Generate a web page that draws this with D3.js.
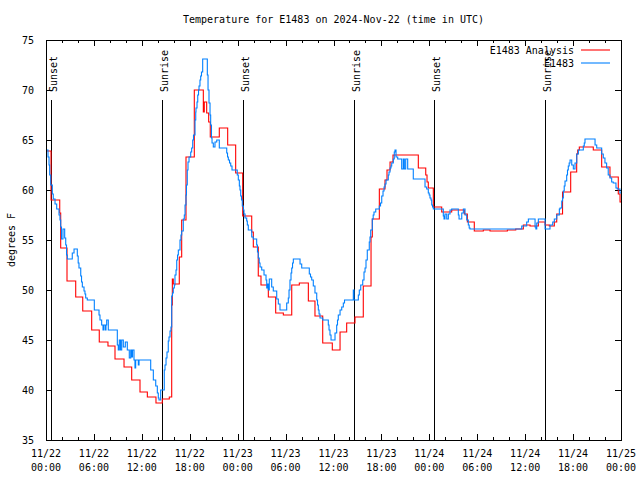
<!DOCTYPE html>
<html>
<head>
<meta charset="utf-8">
<script src="https://cdn.jsdelivr.net/npm/d3@7"></script>
<style>
  body { margin: 0; background: #fff; }
  svg { display: block; }
  text { font-family: "DejaVu Sans Mono", "Liberation Mono", monospace; font-size: 10px; fill: #000; }
</style>
</head>
<body>
<svg id="chart" width="640" height="480"></svg>
<script>
// ---- Data (hours since 2024-11-22 00:00 UTC) ----
const analysisHours = [0.00,0.63,1.72,1.84,2.63,3.72,4.60,5.72,6.67,7.76,8.64,9.77,10.73,11.77,12.69,13.77,14.56,15.44,15.74,15.82,15.94,16.69,16.99,17.53,18.57,19.70,19.82,20.12,20.37,20.57,21.70,22.75,23.75,24.63,25.76,25.96,26.58,26.92,27.84,28.76,29.72,30.77,31.72,32.85,33.68,34.65,35.85,36.82,37.65,38.69,39.73,40.70,40.86,41.74,42.45,42.70,43.08,43.45,46.62,47.55,47.71,47.87,48.50,49.55,50.80,52.38,52.76,53.63,54.76,55.60,57.77,58.82,59.77,60.61,61.65,62.49,63.02,63.65,63.95,64.68,65.70,66.45,66.58,66.78,68.53,69.58,70.62,71.66,71.88];
const analysisTemps = [63.9,59.0,57.7,54.2,50.9,49.3,47.9,46.0,44.8,44.4,43.1,42.3,41.0,39.8,39.3,38.7,39.1,39.3,48.5,51.1,50.6,53.3,57.0,63.3,70.0,67.8,68.8,67.7,66.8,65.3,66.2,64.5,61.7,57.4,55.8,54.3,51.4,50.5,49.3,47.7,47.5,50.5,50.7,48.9,47.4,44.7,44.0,45.8,46.7,47.3,50.4,55.3,57.1,60.1,61.0,62.0,62.8,63.5,62.2,61.5,60.8,60.2,58.3,57.8,58.0,57.6,56.8,55.9,56.0,55.9,56.0,56.1,56.5,56.4,56.8,56.5,56.4,56.8,57.6,59.8,61.8,63.6,64.0,64.3,64.0,62.3,61.3,59.6,58.8];

const stationHours = [0.00,0.25,0.38,0.46,0.59,0.79,0.91,1.13,1.34,1.63,1.75,1.84,1.94,2.13,2.34,2.47,2.57,2.67,3.29,3.51,3.92,4.03,4.13,4.35,4.45,4.55,4.76,4.88,4.97,5.17,6.05,6.64,6.76,6.97,7.14,7.26,7.45,7.51,7.60,7.80,8.93,9.05,9.18,9.33,9.48,9.68,9.93,10.18,10.43,10.61,10.71,10.83,11.02,11.14,11.23,11.56,11.65,13.11,13.44,13.74,13.94,14.06,14.15,14.36,14.81,14.90,15.03,15.15,15.31,15.40,15.53,15.65,15.74,15.84,15.94,16.07,16.15,16.28,16.37,16.47,16.57,16.78,16.90,16.99,17.19,17.32,17.41,17.53,17.59,17.69,17.78,17.91,18.12,18.24,18.37,18.47,18.66,18.75,18.78,18.91,19.00,19.10,19.16,19.28,19.37,19.47,19.62,20.20,20.29,20.41,20.54,20.62,20.72,20.79,20.95,21.16,21.38,21.70,22.63,22.73,22.83,22.98,23.13,23.29,23.95,24.08,24.21,24.29,24.38,24.48,24.58,24.71,24.79,24.92,25.13,25.21,25.33,25.76,25.96,26.38,26.48,26.58,26.70,26.80,27.01,27.30,27.55,27.64,27.71,27.84,27.96,28.26,28.46,28.89,29.09,29.30,30.14,30.34,30.43,30.55,30.68,30.77,30.87,30.97,31.81,32.02,32.97,33.12,33.27,33.47,33.68,33.90,34.00,34.10,34.19,34.31,34.65,35.35,35.44,35.56,35.69,36.19,36.40,36.50,36.60,36.82,37.03,37.23,37.38,38.48,38.57,39.11,39.23,39.41,39.66,39.82,39.95,40.07,40.23,40.48,40.57,40.66,40.86,40.97,41.07,41.29,41.74,41.89,42.04,42.20,42.33,42.45,42.58,42.86,42.95,43.08,43.20,43.29,43.49,43.61,43.70,43.83,44.04,44.54,44.74,44.87,45.04,45.29,45.99,47.46,47.67,47.87,47.98,48.08,48.21,48.30,48.40,48.50,49.75,49.84,49.96,50.18,50.38,50.59,50.80,51.63,51.72,52.06,52.26,52.47,52.68,52.88,52.99,53.09,59.57,60.19,60.40,61.24,61.34,61.45,61.65,62.49,63.11,63.45,63.65,63.95,64.28,64.37,64.58,64.68,64.78,64.89,64.99,65.20,65.30,65.40,65.51,65.62,65.83,66.03,66.24,66.46,66.66,67.28,67.40,67.49,68.75,68.96,69.58,69.78,69.99,70.20,70.40,70.62,70.83,71.03,71.37,71.53,71.87];
const stationTemps = [64.0,63.3,62.5,61.5,60.5,59.6,59.1,58.6,58.1,57.5,57.0,56.3,55.1,56.1,55.2,54.5,53.5,53.1,53.7,54.1,53.4,52.7,52.2,51.4,50.8,50.3,49.9,49.6,49.2,49.0,48.0,47.5,47.0,46.5,46.0,46.5,46.0,46.5,47.0,46.0,44.5,44.0,45.0,44.0,45.0,44.3,44.8,44.0,43.2,44.0,43.3,44.0,43.0,42.2,43.0,42.5,43.0,42.0,41.0,40.4,39.7,39.2,39.0,40.0,42.0,42.5,43.2,43.8,44.9,45.3,45.9,46.3,49.4,49.7,50.2,50.5,51.5,52.0,53.0,53.5,54.0,55.0,55.5,55.9,57.1,57.5,58.5,59.5,60.5,62.0,62.8,63.3,63.8,64.2,65.0,65.5,67.0,67.8,68.2,68.8,69.5,70.0,70.4,71.0,71.4,71.8,73.1,71.5,70.0,68.7,67.5,66.5,65.2,64.7,64.3,64.8,65.0,64.2,63.7,63.3,63.0,62.7,62.4,62.0,61.5,61.0,60.4,60.0,59.4,59.0,58.4,58.0,57.6,57.2,56.9,56.5,56.0,55.3,55.1,54.5,53.8,53.2,52.7,52.3,52.0,51.5,51.0,50.2,50.6,50.0,51.1,50.3,49.9,49.1,48.6,48.0,48.7,49.2,50.0,51.0,51.7,52.2,52.7,53.1,52.6,52.2,51.6,51.3,51.0,50.4,49.7,49.0,48.5,48.0,47.6,47.2,47.0,46.5,46.0,45.5,45.0,45.7,46.5,47.0,47.5,48.0,48.3,48.7,49.0,50.0,49.0,49.5,50.0,50.5,51.0,51.8,52.2,53.0,54.0,54.8,55.3,56.0,57.1,57.5,57.8,58.1,58.4,58.7,59.4,59.9,60.3,60.6,61.0,61.5,61.8,62.2,62.4,62.7,63.1,63.8,64.0,63.3,63.1,62.1,63.1,62.1,63.1,62.1,61.1,60.3,60.1,59.7,59.5,59.2,59.0,58.5,58.3,58.1,57.4,57.1,57.6,57.1,57.6,58.0,58.1,57.5,57.1,57.7,58.1,57.5,57.0,56.5,56.2,56.1,56.4,56.8,57.1,56.3,56.1,56.7,57.1,56.1,56.5,56.8,57.1,57.5,58.1,58.2,58.9,59.2,59.9,60.4,60.9,61.5,62.0,62.4,62.7,63.0,62.5,62.1,62.7,63.6,64.0,64.4,64.7,65.1,64.5,64.2,63.6,63.2,62.7,62.2,61.5,61.2,60.8,60.7,60.2,60.1,59.7];

const sunEventHours = [0.63, 14.53, 24.67, 38.57, 48.60, 62.49];
const sunEventLabels = ["Sunset", "Sunrise", "Sunset", "Sunrise", "Sunset", "Sunrise"];

const xTickHours = [0, 6, 12, 18, 24, 30, 36, 42, 48, 54, 60, 66, 72];
const xTickDates = ["11/22","11/22","11/22","11/22","11/23","11/23","11/23","11/23","11/24","11/24","11/24","11/24","11/25"];
const xTickTimes = ["00:00","06:00","12:00","18:00","00:00","06:00","12:00","18:00","00:00","06:00","12:00","18:00","00:00"];
const xMinorHours = d3.range(0, 73, 2);
const yTicks = [35, 40, 45, 50, 55, 60, 65, 70, 75];

const seriesNames = ["E1483 Analysis", "E1483"];
const seriesColors = ["#ff0000", "#0080ff"];
const titleText = "Temperature for E1483 on 2024-Nov-22 (time in UTC)";
const yLabelText = "degrees F";

// ---- Layout ----
const W = 640, H = 480;
const m = { left: 46, right: 19, top: 40, bottom: 40 };
const pw = W - m.left - m.right, ph = H - m.top - m.bottom;

const svg = d3.select("#chart");
const x = d3.scaleLinear().domain([0, 72]).range([m.left, m.left + pw]);
const y = d3.scaleLinear().domain([35, 75]).range([m.top + ph, m.top]);

svg.append("rect").attr("width", W).attr("height", H).attr("fill", "#fff");

// axes (ticks inward, mirrored)
const majorLen = 6, minorLen = 3;
const gBottomMin = svg.append("g").attr("transform", `translate(0,${m.top + ph})`)
  .call(d3.axisBottom(x).tickValues(xMinorHours).tickSize(-minorLen).tickFormat(""));
const gBottomMaj = svg.append("g").attr("transform", `translate(0,${m.top + ph})`)
  .call(d3.axisBottom(x).tickValues(xTickHours).tickSize(-majorLen).tickFormat(""));
const gTopMin = svg.append("g").attr("transform", `translate(0,${m.top})`)
  .call(d3.axisTop(x).tickValues(xMinorHours).tickSize(-minorLen).tickFormat(""));
const gTopMaj = svg.append("g").attr("transform", `translate(0,${m.top})`)
  .call(d3.axisTop(x).tickValues(xTickHours).tickSize(-majorLen).tickFormat(""));
const gLeft = svg.append("g").attr("transform", `translate(${m.left},0)`)
  .call(d3.axisLeft(y).tickValues(yTicks).tickSize(-majorLen).tickPadding(6 + majorLen).tickFormat(d3.format("d")));
const gRight = svg.append("g").attr("transform", `translate(${m.left + pw},0)`)
  .call(d3.axisRight(y).tickValues(yTicks).tickSize(-majorLen).tickFormat(""));

[gBottomMin, gBottomMaj, gTopMin, gTopMaj, gLeft, gRight].forEach(g => {
  g.select(".domain").remove();
  g.selectAll("line").attr("stroke", "#000").attr("shape-rendering", "crispEdges");
});
gLeft.selectAll("text").attr("font-family", "DejaVu Sans Mono, monospace").attr("font-size", 10).attr("fill", "#000");

// x tick labels (two lines)
const xl = svg.append("g");
xTickHours.forEach((h, i) => {
  xl.append("text").attr("x", x(h)).attr("y", 457).attr("text-anchor", "middle").text(xTickDates[i]);
  xl.append("text").attr("x", x(h)).attr("y", 471).attr("text-anchor", "middle").text(xTickTimes[i]);
});

// sunrise / sunset lines
const sun = svg.append("g");
sunEventHours.forEach((h, i) => {
  const xx = Math.round(x(h)) + 0.5;
  sun.append("line").attr("x1", xx).attr("x2", xx).attr("y1", 100).attr("y2", m.top + ph)
    .attr("stroke", "#000").attr("stroke-width", 1).attr("shape-rendering", "crispEdges");
  sun.append("text").attr("transform", `translate(${xx + 5},92) rotate(-90)`)
    .attr("text-anchor", "start").text(sunEventLabels[i]);
});

// data lines (step style)
const line = d3.line().x(d => x(d[0])).y(d => y(d[1])).curve(d3.curveStepAfter);
function series(hours, temps) {
  const pts = hours.map((h, i) => [h, temps[i]]);
  pts.push([72, temps[temps.length - 1]]);
  return pts;
}
svg.append("path").datum(series(analysisHours, analysisTemps))
  .attr("d", line).attr("fill", "none").attr("stroke", seriesColors[0]).attr("stroke-width", 1.1);
svg.append("path").datum(series(stationHours, stationTemps))
  .attr("d", line).attr("fill", "none").attr("stroke", seriesColors[1]).attr("stroke-width", 1.1);

// border
svg.append("rect").attr("x", m.left + 0.5).attr("y", m.top + 0.5).attr("width", pw).attr("height", ph)
  .attr("fill", "none").attr("stroke", "#000").attr("shape-rendering", "crispEdges");

// legend
const lg = svg.append("g");
seriesNames.forEach((n, i) => {
  const ly = 50 + i * 13;
  lg.append("text").attr("x", 574).attr("y", ly + 3.5).attr("text-anchor", "end").text(n);
  lg.append("line").attr("x1", 581).attr("x2", 610).attr("y1", ly).attr("y2", ly)
    .attr("stroke", seriesColors[i]).attr("stroke-width", 1.1);
});

// title & y label
svg.append("text").attr("x", m.left + pw / 2).attr("y", 23).attr("text-anchor", "middle").text(titleText);
svg.append("text").attr("transform", `translate(15,${m.top + ph / 2}) rotate(-90)`)
  .attr("text-anchor", "middle").text(yLabelText);
</script>
</body>
</html>
